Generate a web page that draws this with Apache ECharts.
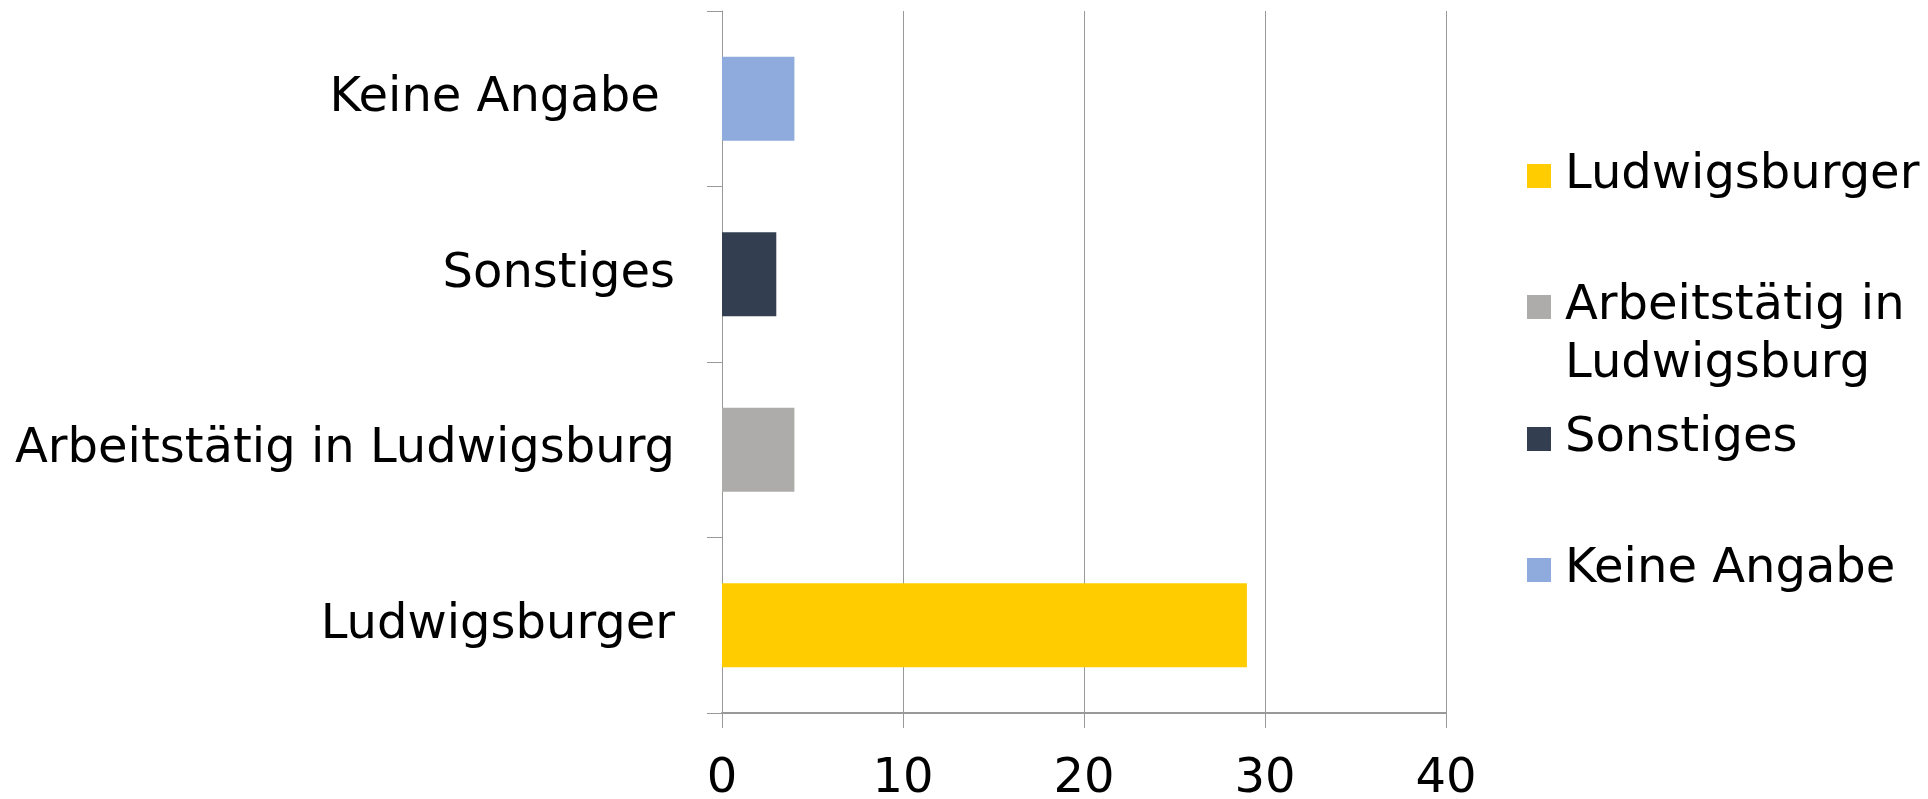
<!DOCTYPE html>
<html>
<head>
<meta charset="utf-8">
<script src="https://cdn.jsdelivr.net/npm/echarts@6/dist/echarts.min.js"></script>
<style>
html,body{margin:0;padding:0;background:#fff;}
#c{width:1928px;height:799px;}
</style>
</head>
<body>
<div id="c"></div>
<script>
// Data
const categories = ['Ludwigsburger', 'Arbeitstätig in Ludwigsburg', 'Sonstiges', 'Keine Angabe '];
const seriesNames = ['Ludwigsburger', 'Arbeitstätig in Ludwigsburg', 'Sonstiges', 'Keine Angabe'];
const values = [29, 4, 3, 4];
const colors = ['#FFCC00', '#ADACAA', '#333F50', '#8FAADC'];
const xTicks = [0, 10, 20, 30, 40];

const chart = echarts.init(document.getElementById('c'));
const FONT = 'DejaVu Sans';

const series = seriesNames.map(function (name, i) {
  return {
    name: name,
    type: 'bar',
    stack: 'all',
    barWidth: '48%',
    itemStyle: { color: colors[i] },
    data: values.map(function (v, j) { return j === i ? v : '-'; })
  };
});

const legendTops = [147, 220, 410, 541];
const legendFormat = {
  'Arbeitstätig in Ludwigsburg': '\u00a0\nArbeitstätig in\nLudwigsburg'
};
const legends = seriesNames.map(function (name, i) {
  return {
    data: [name],
    orient: 'vertical',
    left: 1527,
    top: legendTops[i],
    padding: 0,
    itemWidth: 24,
    itemHeight: 24,
    icon: 'rect',
    selectedMode: false,
    formatter: function (n) { return legendFormat[n] || n; },
    textStyle: {
      fontFamily: FONT,
      fontSize: 48,
      lineHeight: 58,
      color: '#000',
      padding: [0, 0, 0, 9]
    }
  };
});

chart.setOption({
  animation: false,
  backgroundColor: '#fff',
  grid: { left: 722, right: 482, top: 11, bottom: 86, containLabel: false, outerBoundsMode: 'none' },
  legend: legends,
  xAxis: {
    type: 'value',
    min: xTicks[0],
    max: xTicks[xTicks.length - 1],
    interval: 10,
    axisLine: { show: true, lineStyle: { color: '#999', width: 2 } },
    axisTick: { show: true, length: 15, lineStyle: { color: '#999', width: 1 } },
    splitLine: { show: true, lineStyle: { color: '#999', width: 1 } },
    axisLabel: { fontFamily: FONT, fontSize: 48, color: '#000', margin: 43 }
  },
  yAxis: {
    type: 'category',
    data: categories,
    axisLine: { show: true, lineStyle: { color: '#999', width: 1 } },
    axisTick: { show: true, length: 15, lineStyle: { color: '#999', width: 1 } },
    axisLabel: { fontFamily: FONT, fontSize: 48, color: '#000', margin: 47, padding: [5, 0, 0, 0] }
  },
  series: series
});
</script>
</body>
</html>
